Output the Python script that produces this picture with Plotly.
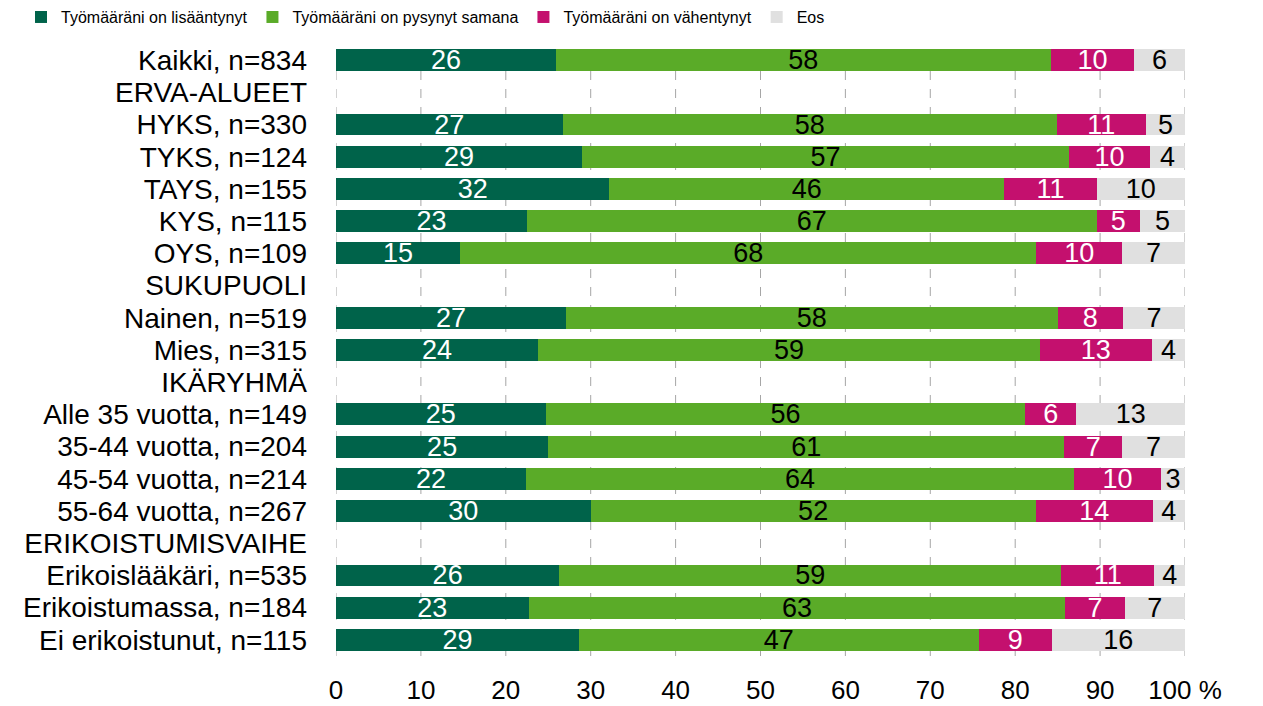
import plotly.graph_objects as go

categories = ["Kaikki, n=834", "ERVA-ALUEET", "HYKS, n=330", "TYKS, n=124", "TAYS, n=155",
              "KYS, n=115", "OYS, n=109", "SUKUPUOLI", "Nainen, n=519", "Mies, n=315",
              "IKÄRYHMÄ", "Alle 35 vuotta, n=149", "35-44 vuotta, n=204", "45-54 vuotta, n=214",
              "55-64 vuotta, n=267", "ERIKOISTUMISVAIHE", "Erikoislääkäri, n=535",
              "Erikoistumassa, n=184", "Ei erikoistunut, n=115"]

series_names = ["Työmääräni on lisääntynyt", "Työmääräni on pysynyt samana",
                "Työmääräni on vähentynyt", "Eos"]

increased = [25.9, None, 26.7, 29.0, 32.2, 22.5, 14.6, None, 27.1, 23.8, None, 24.7, 25.0, 22.4, 30.0, None, 26.3, 22.7, 28.6]
same      = [58.3, None, 58.2, 57.3, 46.5, 67.1, 67.9, None, 57.9, 59.1, None, 56.5, 60.8, 64.5, 52.4, None, 59.1, 63.2, 47.1]
decreased = [9.8, None, 10.5, 9.6, 10.9, 5.1, 10.1, None, 7.7, 13.2, None, 6.0, 6.8, 10.3, 13.8, None, 11.0, 7.0, 8.6]
dont_know = [6.0, None, 4.6, 4.1, 10.4, 5.3, 7.4, None, 7.3, 3.9, None, 12.8, 7.4, 2.8, 3.8, None, 3.6, 7.1, 15.7]

lab_increased = [26, None, 27, 29, 32, 23, 15, None, 27, 24, None, 25, 25, 22, 30, None, 26, 23, 29]
lab_same      = [58, None, 58, 57, 46, 67, 68, None, 58, 59, None, 56, 61, 64, 52, None, 59, 63, 47]
lab_decreased = [10, None, 11, 10, 11, 5, 10, None, 8, 13, None, 6, 7, 10, 14, None, 11, 7, 9]
lab_dont_know = [6, None, 5, 4, 10, 5, 7, None, 7, 4, None, 13, 7, 3, 4, None, 4, 7, 16]

x_ticks = [0, 10, 20, 30, 40, 50, 60, 70, 80, 90, 100]
x_ticklabels = ["0", "10", "20", "30", "40", "50", "60", "70", "80", "90", "100 %"]

colors = ["#00634A", "#5AAB28", "#C4106E", "#E0E0E0"]
text_colors = ["white", "black", "white", "black"]

FONT = "Liberation Sans, Arial, sans-serif"

W, H = 1263, 706
ML, MR, MT, MB = 328, 86, 36, 58

fig = go.Figure()
for name, vals, labs, col, tcol in zip(series_names, [increased, same, decreased, dont_know],
                                      [lab_increased, lab_same, lab_decreased, lab_dont_know],
                                      colors, text_colors):
    fig.add_trace(go.Bar(
        y=categories, x=vals, name=name, orientation="h",
        marker=dict(color=col, line=dict(width=0)),
        text=[("" if l is None else str(l)) for l in labs],
        textposition="inside", insidetextanchor="middle", textangle=0,
        textfont=dict(color=tcol, size=27, family=FONT),
        constraintext="none", cliponaxis=False,
        showlegend=False, hoverinfo="skip",
    ))
    fig.add_trace(go.Scatter(
        x=[None], y=[None], mode="markers", name=name,
        marker=dict(symbol="square", size=12, color=col),
        showlegend=True,
    ))

# dashed gridlines at every tick (including plot edges)
for xv in x_ticks:
    fig.add_shape(type="line", xref="x", yref="paper", x0=xv, x1=xv, y0=0, y1=1,
                  line=dict(color="#A6A6A6", width=1, dash="dash"), layer="below")

fig.update_layout(
    barmode="stack",
    bargap=0.32,
    width=W, height=H,
    margin=dict(l=ML, r=MR, t=MT, b=MB, autoexpand=False),
    plot_bgcolor="white", paper_bgcolor="white",
    font=dict(family=FONT, color="black"),
    uniformtext=dict(minsize=27, mode="show"),
    legend=dict(orientation="h", traceorder="normal", x=-0.371, xanchor="left",
                y=1.044, yanchor="middle",
                font=dict(size=16, family=FONT),
                itemwidth=30, tracegroupgap=0, bgcolor="rgba(0,0,0,0)"),
    xaxis=dict(range=[0, 100.001], tickvals=x_ticks, ticktext=x_ticklabels,
               showgrid=False, zeroline=False, showline=False, ticks="",
               tickfont=dict(size=26, family=FONT), ticklabelstandoff=16),
    yaxis=dict(categoryorder="array", categoryarray=categories, autorange="reversed",
               tickmode="array", tickvals=categories, ticktext=categories,
               showgrid=False, showline=False, ticks="", tickfont=dict(size=28, family=FONT),
               ticklabelstandoff=28),
)

fig.write_html("out.html")
